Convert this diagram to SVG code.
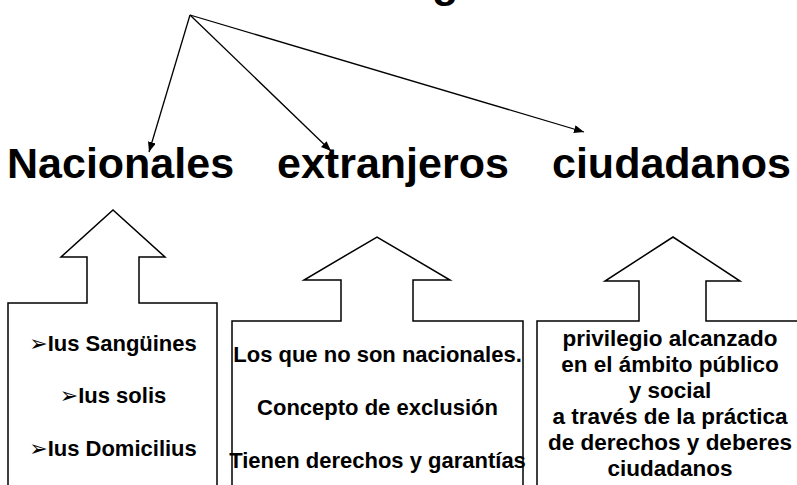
<svg xmlns="http://www.w3.org/2000/svg" width="797" height="485" viewBox="0 0 797 485">
<style>
.h{font-family:"Liberation Sans",Arial,sans-serif;font-weight:bold;font-size:43px;fill:#000}
.t{font-family:"Liberation Sans",Arial,"DejaVu Sans",sans-serif;font-weight:bold;font-size:22px;fill:#000;text-anchor:middle}
.t3{font-size:22.5px}
.shape{fill:#fff;stroke:#000;stroke-width:1.5}
.con{stroke:#000;stroke-width:1.3;fill:none;marker-end:url(#ah)}
</style>
<defs>
<marker id="ah" markerUnits="userSpaceOnUse" markerWidth="12" markerHeight="10" refX="10" refY="4" orient="auto">
<path d="M0,0 L10,4 L0,8 Z" fill="#000"/>
</marker>
</defs>
<text class="h" x="432" y="-3">g</text>
<g id="connectors">
<line class="con" x1="190" y1="15" x2="149" y2="152"/>
<line class="con" x1="190" y1="15" x2="331" y2="151"/>
<line class="con" x1="190" y1="15" x2="584" y2="132"/>
</g>
<g id="nacionales">
<text class="h" x="7" y="178">Nacionales</text>
<path class="shape" d="M8,492 V303 H87 V257 H61 L113,210 L165,257 H139 V303 H217 V492"/>
<text class="t" x="113" y="351">➢Ius Sangüines</text>
<text class="t" x="113" y="403">➢Ius solis</text>
<text class="t" x="113" y="456">➢Ius Domicilius</text>
</g>
<g id="extranjeros">
<text class="h" x="277" y="178">extranjeros</text>
<path class="shape" d="M232,492 V321 H341 V280 H304 L377,237 L450,280 H413 V321 H523 V492"/>
<text class="t" x="377.5" y="362">Los que no son nacionales.</text>
<text class="t" x="377.5" y="415">Concepto de exclusión</text>
<text class="t" x="377.5" y="468">Tienen derechos y garantías</text>
</g>
<g id="ciudadanos">
<text class="h" x="552" y="178">ciudadanos</text>
<path class="shape" d="M537,492 V321 H639 V281 H605 L673,237 L740,281 H706 V321 H802"/>
<text class="t t3" x="670" y="346">privilegio alcanzado</text>
<text class="t t3" x="670" y="372">en el ámbito público</text>
<text class="t t3" x="670" y="398">y social</text>
<text class="t t3" x="670" y="424">a través de la práctica</text>
<text class="t t3" x="670" y="450">de derechos y deberes</text>
<text class="t t3" x="670" y="476">ciudadanos</text>
</g>
</svg>
